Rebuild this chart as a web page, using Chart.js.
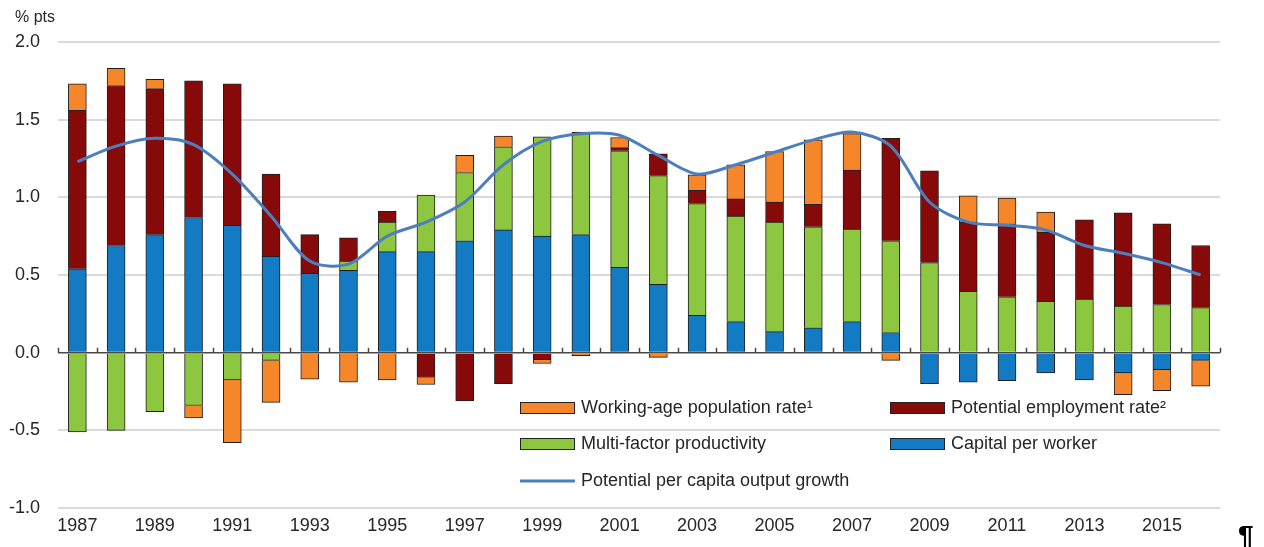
<!DOCTYPE html>
<html>
<head>
<meta charset="utf-8">
<script src="https://cdn.jsdelivr.net/npm/chart.js@4.4.0/dist/chart.umd.min.js"></script>
<style>
    html, body { margin: 0; padding: 0; background: #fff; }
    #wrap { position: relative; width: 1264px; height: 547px; }
</style>
</head>
<body>
<div id="wrap"><canvas id="chart"></canvas></div>
<script>
// Data (% pts)
const years = ['1987','1988','1989','1990','1991','1992','1993','1994','1995','1996',
               '1997','1998','1999','2000','2001','2002','2003','2004','2005','2006',
               '2007','2008','2009','2010','2011','2012','2013','2014','2015','2016'];

const capitalPerWorker = [0.54, 0.69, 0.76, 0.87, 0.82, 0.62, 0.51, 0.53, 0.65, 0.65,
                          0.72, 0.79, 0.75, 0.76, 0.55, 0.44, 0.24, 0.20, 0.135, 0.16,
                          0.20, 0.13, -0.20, -0.19, -0.18, -0.13, -0.175, -0.13, -0.11, -0.05];

const multiFactor = [-0.51, -0.50, -0.38, -0.34, -0.175, -0.05, 0, 0.06, 0.19, 0.365,
                     0.44, 0.535, 0.64, 0.65, 0.75, 0.70, 0.72, 0.68, 0.705, 0.65,
                     0.595, 0.59, 0.58, 0.395, 0.36, 0.33, 0.345, 0.30, 0.31, 0.29];

const employmentRate = [1.02, 1.03, 0.94, 0.88, 0.91, 0.53, 0.25, 0.15, 0.07, -0.16,
                        -0.31, -0.20, -0.045, 0.01, 0.02, 0.14, 0.085, 0.11, 0.13, 0.145,
                        0.38, 0.66, 0.59, 0.445, 0.47, 0.445, 0.51, 0.60, 0.52, 0.40];

const workingAgeRate = [0.17, 0.11, 0.06, -0.08, -0.405, -0.27, -0.17, -0.19, -0.175, -0.045,
                        0.11, 0.07, -0.025, -0.02, 0.065, -0.03, 0.10, 0.22, 0.325, 0.415,
                        0.235, -0.05, 0, 0.17, 0.165, 0.13, 0, -0.14, -0.135, -0.165];

const potentialGrowth = [1.23, 1.33, 1.38, 1.34, 1.15, 0.88, 0.59, 0.57, 0.75, 0.84,
                         0.97, 1.21, 1.36, 1.41, 1.40, 1.27, 1.15, 1.21, 1.29, 1.37,
                         1.42, 1.33, 0.97, 0.84, 0.82, 0.79, 0.69, 0.64, 0.58, 0.50];

const yTicks = [-1.0, -0.5, 0.0, 0.5, 1.0, 1.5, 2.0];

const FONT = '"Liberation Sans", Arial, sans-serif';
const TEXT = '#262626';

const COLORS = {
    orange: '#f5862a',
    red: '#860a0a',
    green: '#8dc63f',
    blue: '#137ac4',
    line: '#4d7fbf'
};

// legend grid: [dataset index, column, row]
const legendLayout = [[4, 0, 0], [3, 1, 0], [2, 0, 1], [1, 1, 1], [0, 0, 2]];

const extrasPlugin = {
    id: 'extras',
    afterDatasetsDraw(chart) {
        const { ctx, chartArea, scales } = chart;
        const y0 = scales.y.getPixelForValue(0);
        const n = years.length;
        const w = (chartArea.right - chartArea.left) / n;
        ctx.save();
        ctx.strokeStyle = '#4a4a4a';
        ctx.lineWidth = 1.5;
        ctx.beginPath();
        ctx.moveTo(chartArea.left, y0);
        ctx.lineTo(chartArea.right, y0);
        for (let i = 0; i <= n; i++) {
            const x = Math.round(chartArea.left + i * w) + 0.5;
            ctx.moveTo(x, y0);
            ctx.lineTo(x, y0 - 5);
        }
        ctx.stroke();
        ctx.restore();
    },
    afterDraw(chart) {
        const { ctx } = chart;
        ctx.save();
        // unit label
        ctx.fillStyle = TEXT;
        ctx.font = '16px ' + FONT;
        ctx.textBaseline = 'middle';
        ctx.textAlign = 'left';
        ctx.fillText('% pts', 15, 18);

        // legend
        const colX = [520, 890];
        const rowY = [408, 444, 481];
        ctx.font = '18px ' + FONT;
        legendLayout.forEach(([di, c, r]) => {
            const ds = chart.data.datasets[di];
            const x = colX[c], y = rowY[r];
            if (ds.type === 'line') {
                ctx.strokeStyle = ds.borderColor;
                ctx.lineWidth = 3;
                ctx.beginPath();
                ctx.moveTo(x, y);
                ctx.lineTo(x + 55, y);
                ctx.stroke();
            } else {
                ctx.fillStyle = ds.backgroundColor;
                ctx.fillRect(x, y - 6, 55, 12);
                ctx.strokeStyle = '#222';
                ctx.lineWidth = 1;
                ctx.strokeRect(x + 0.5, y - 5.5, 54, 11);
            }
            ctx.fillStyle = TEXT;
            ctx.fillText(ds.label, x + 61, y);
        });

        // pilcrow seen at bottom right of the reference
        ctx.font = 'bold 28px ' + FONT;
        ctx.fillStyle = '#000';
        ctx.textBaseline = 'alphabetic';
        ctx.fillText('\u00b6', 1238, 545);
        ctx.restore();
    }
};

const ctx = document.getElementById('chart').getContext('2d');
const chart = new Chart(ctx, {
    data: {
        labels: years,
        datasets: [
            {
                type: 'line',
                label: 'Potential per capita output growth',
                data: potentialGrowth,
                borderColor: COLORS.line,
                borderWidth: 3,
                pointRadius: 0,
                tension: 0.3,
                fill: false,
                stack: 'line',
                order: -1
            },
            {
                type: 'bar',
                label: 'Capital per worker',
                data: capitalPerWorker,
                backgroundColor: COLORS.blue,
                borderColor: '#1e1e1e',
                borderWidth: 1,
                barThickness: 18
            },
            {
                type: 'bar',
                label: 'Multi-factor productivity',
                data: multiFactor,
                backgroundColor: COLORS.green,
                borderColor: '#1e1e1e',
                borderWidth: 1,
                barThickness: 18
            },
            {
                type: 'bar',
                label: 'Potential employment rate\u00b2',
                data: employmentRate,
                backgroundColor: COLORS.red,
                borderColor: '#1e1e1e',
                borderWidth: 1,
                barThickness: 18
            },
            {
                type: 'bar',
                label: 'Working-age population rate\u00b9',
                data: workingAgeRate,
                backgroundColor: COLORS.orange,
                borderColor: '#1e1e1e',
                borderWidth: 1,
                barThickness: 18
            }
        ]
    },
    options: {
        responsive: true,
        maintainAspectRatio: false,
        animation: false,
        devicePixelRatio: 1,
        layout: { padding: { top: 42, right: 44, left: 0, bottom: 0 } },
        plugins: {
            legend: { display: false },
            tooltip: { enabled: false }
        },
        scales: {
            x: {
                stacked: true,
                offset: true,
                grid: { display: false, drawTicks: false },
                border: { display: false },
                ticks: {
                    autoSkip: false,
                    maxRotation: 0,
                    color: TEXT,
                    font: { family: FONT, size: 18 },
                    padding: 7,
                    callback: (v, i) => (i % 2 === 0 ? years[i] : '')
                },
                afterFit: s => { s.height = 39; }
            },
            y: {
                stacked: true,
                min: -1,
                max: 2,
                afterBuildTicks: s => { s.ticks = yTicks.map(v => ({ value: v })); },
                grid: {
                    color: c => (c.tick && c.tick.value === 0 ? 'rgba(0,0,0,0)' : '#dadada'),
                    lineWidth: 2,
                    drawTicks: false
                },
                border: { display: false },
                ticks: {
                    color: TEXT,
                    font: { family: FONT, size: 18 },
                    padding: 18,
                    callback: v => Number(v).toFixed(1)
                },
                afterFit: s => { s.width = 58; }
            }
        }
    },
    plugins: [extrasPlugin]
});
</script>
</body>
</html>
